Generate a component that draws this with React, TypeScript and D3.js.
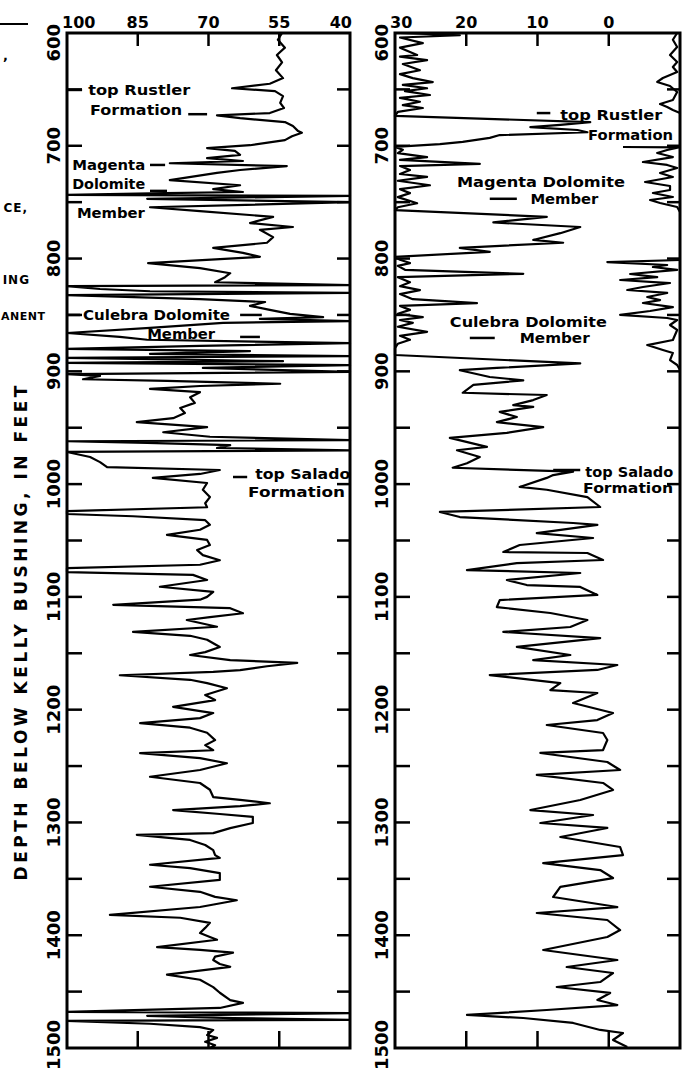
import React from 'react';
import * as d3 from 'd3';

// ---------- DATA ----------
// Left log (scale 100 -> 40), depth in feet below Kelly bushing
const leftDepth = [600,606,613,619.5,626,633,640,645,649,651.5,656,662,666.5,671,673,675.5,679,682.5,687,688.5,691.5,695,699.5,702,704.5,708,711,713.5,715.5,718,721.5,724,730.5,735,738.5,741,742,743.5,744.5,747,750,754.5,758,763,768.5,772,774.5,781,786,790.5,795,798.5,804,808.5,813,816.5,821,823.5,824.5,827,829,830.5,832.5,836,838.5,842,845.5,849,852,853.5,855.5,857,861.5,866,869.5,872,875,877.5,880,882,884.5,886.5,888,891,892.5,894.5,897,900.5,902.5,904,907,908.5,911,913,915.5,918.5,923,928,932.5,937,941.5,945,949.5,954,958,961,962,963.5,965.5,968,970,971.5,976,980.5,985,987.5,991,994.5,999,1005,1011.5,1017,1020.5,1024,1026.5,1028.5,1032,1036,1040.5,1045,1049.5,1054,1058.5,1063,1067.5,1071.5,1074.5,1078,1080.5,1085,1091,1095.5,1100,1102.5,1107,1110,1114.5,1118,1120.5,1126.5,1131,1134.5,1138,1144.5,1149,1151.5,1156,1158.5,1161.5,1165,1166.5,1169.5,1173.5,1176.5,1181,1187,1191.5,1197.5,1203,1207.5,1212,1216,1220.5,1227,1231.5,1236,1238.5,1243,1247.5,1253.5,1259.5,1265,1271,1277.5,1280,1283,1285.5,1289,1292.5,1295,1300.5,1305,1309.5,1311,1315.5,1320,1324.5,1329,1331.5,1337.5,1340.5,1345,1351,1357,1361.5,1366,1369,1372.5,1375,1382,1384.5,1389,1393.5,1398,1401.5,1404,1410.5,1413,1415.5,1419,1422,1425.5,1428,1435,1439.5,1446,1451,1457.5,1460,1464.5,1468,1469,1471.5,1473.5,1475,1476,1478.5,1481.5,1484,1488.5,1491,1494.5,1497.5,1500];
const leftValue = [54.4,55.3,53.8,55.5,54.4,55.7,54.2,57.0,65.0,55.9,54.2,54.8,54.0,57.0,68.2,63.3,53.8,52.1,51.0,50.2,52.3,53.8,61.2,70.3,64.4,63.3,70.3,62.7,78.2,53.4,63.3,68.2,78.2,63.3,69.0,62.7,79.2,100,40,83.0,40,82.4,71.8,56.3,61.2,52.1,59.1,56.3,57.6,69.0,62.7,59.1,82.8,71.8,65.4,66.5,68.6,40,100,93.0,82.4,40,100,71.8,58.0,61.2,57.0,52.7,45.7,59.1,40,66.9,82.4,100,88.8,83.0,40,71.8,100,61.2,82.4,40,100,54.2,100,40,71.2,40,100,93.0,96.6,78.8,54.8,71.8,82.4,71.8,73.9,72.9,76.0,75.0,77.5,85.2,70.3,79.6,69.7,40,100,83.0,65.4,68.2,40,100,95.1,93.0,91.5,67.6,71.8,81.8,70.3,71.2,69.7,70.7,70.3,100,100,86.0,70.7,69.7,71.8,78.8,70.3,69.7,72.4,71.2,67.6,71.8,100,100,73.3,70.3,80.3,69.0,70.3,71.8,90.2,65.4,62.7,69.7,74.6,68.2,86.0,73.9,70.3,67.6,70.7,73.9,65.4,51.2,57.6,63.3,69.0,88.8,73.9,70.3,66.1,70.7,68.6,77.5,69.0,71.8,84.5,73.9,70.3,68.6,70.7,69.0,84.5,71.8,66.1,71.8,82.4,71.8,69.7,69.0,63.3,57.0,63.3,77.5,67.6,60.6,60.6,65.4,69.0,85.2,73.9,70.7,69.0,68.6,67.6,82.4,73.9,67.6,67.6,82.4,71.8,68.6,64.0,68.6,71.8,90.9,76.0,69.7,70.7,71.8,69.7,68.2,80.9,71.8,64.8,68.6,69.0,67.6,65.4,78.8,71.8,69.0,67.6,65.4,62.7,67.6,100,40,83.0,64.8,40,100,82.4,71.8,69.0,70.3,68.2,70.7,68.6,69.7];

// Right log (scale 30 -> -10), main trace
const rightDepth = [600,602,604,609,613,619.5,621,624,627.5,633,636.5,640,643.5,646,649,651.5,655,657.5,661,664,666.5,670,673.5,679,681.5,683.5,686,688,690.5,693,696.5,698.5,701,703.5,706.5,710,712.5,716,718,721.5,725,727.5,731,735,738.5,742,745.5,751,754.5,757,763,768,772,777.5,783.5,786,790.5,794,798.5,801,804,806.5,810,813.5,816.5,821,824.5,828,831.5,836,839.5,842,845.5,849,852,854.5,857,860.5,865,868.5,872,875.5,879.5,885.5,893,897,899,905,908,912,919,921,925.5,930,931.5,936,940.5,945,949.5,954.5,959,967,970,976,981.5,985.5,989,992,994.5,1002.5,1005,1011.5,1020.3,1024.7,1029.2,1034.5,1036.2,1043.4,1047.8,1054,1060.2,1061.1,1067.3,1070,1076.2,1078.8,1085,1089.5,1091.2,1098.3,1102.8,1109,1114.3,1120.5,1126.7,1131.1,1136.5,1144.4,1151.5,1156,1160.4,1164.8,1169.3,1176.4,1182.6,1185.2,1194.1,1203,1209.2,1213.6,1220.7,1226.9,1235.8,1238.4,1246.4,1253.5,1257.9,1265,1271.2,1280.1,1289,1293.4,1300.5,1304.9,1312.9,1321.8,1328.9,1336,1342.2,1349.3,1357.2,1366.1,1375,1380.3,1386.5,1395.4,1401.6,1413.1,1422,1428.2,1433.5,1441.5,1445.9,1451.2,1457.4,1461.9,1466.3,1470.7,1473.4,1477.8,1484,1486.7,1492.9,1499.1];
const rightValue = [29.3,20.9,29.3,26.1,29.3,26.9,29.3,25.5,28.9,26.5,29.3,27.5,24.7,28.9,25.5,28.6,25.1,29.3,26.5,28.9,26.1,29.6,30,2.6,6.8,11.0,4.4,3.0,15.3,16.7,20.5,23.7,30,28.9,29.6,25.5,29.3,18.1,29.3,27.9,29.3,25.5,29.6,25.1,29.3,27.9,29.6,26.9,29.6,30,8.7,16.2,4.0,6.8,10.6,6.4,20.9,16.7,30,29.3,27.9,29.6,28.6,12.0,29.6,27.9,29.3,26.5,29.3,27.5,18.5,29.3,27.9,29.6,26.1,29.3,27.5,29.6,25.5,29.3,27.9,29.6,30,30,4.0,15.7,20.9,16.7,12.0,19.0,20.5,8.7,10.6,13.4,10.6,15.3,12.9,15.7,9.2,14.3,22.3,17.1,21.3,18.1,19.9,21.9,5.0,7.8,8.7,12.5,8.7,3.0,1.2,23.7,20.9,5.0,1.6,10.1,2.2,12.5,14.8,3.0,0.8,12.9,19.9,4.0,14.3,11.5,4.0,1.6,15.3,15.7,8.2,3.0,5.4,14.8,1.2,12.9,5.4,10.6,-1.2,1.6,16.7,6.8,8.2,1.6,5.0,-0.6,1.6,8.7,0.8,0.2,0.8,9.6,0.2,-1.6,10.1,0.8,-0.6,4.0,11.0,2.2,9.6,0.2,6.8,-1.6,-2.0,9.2,1.2,-0.6,6.8,7.8,-1.2,10.1,0.2,-1.6,0.2,9.2,-1.2,5.9,-0.6,1.2,7.3,-0.2,1.6,-1.2,8.7,19.9,12.0,5.0,1.2,-2.0,-0.6,-2.6];

// Right log, off-scale trace wrapped to the right edge (NaN = gap)
const wrapDepth = [600,606,612.4,619.5,625.7,630.1,634.6,639.9,643.4,647,652.3,659.4,663,665.6,668.3,671,NaN,701.1,701.5,703.7,706.4,710,714.4,717,719.7,724.1,727.7,732.1,735.7,739.2,741.9,745.4,748.1,750.7,754.3,758.7,NaN,801.3,803.1,805.7,807.5,810.1,813.7,816.4,819,821.7,825.2,827.9,830.5,834.1,836.8,839.4,843,846.5,850,852.7,854.5,858.9,863.3,872.2,876.7,881.1,883.7,890,894.4,898.8];
const wrapValue = [-9.6,-9.0,-9.6,-8.6,-9.6,-9.0,-9.6,-7.6,-6.8,-8.6,-9.6,-9.0,-7.2,-8.2,-9.0,-10,NaN,-2.0,-9.8,-8.2,-6.8,-9.0,-4.8,-8.2,-9.6,-7.2,-9.0,-5.1,-8.6,-8.6,-6.2,-9.0,-5.8,-7.2,-9.6,-10,NaN,-10,0.2,-8.2,-6.2,-9.6,-3.0,-6.8,-1.6,-8.6,-4.8,-2.6,-8.2,-5.4,-7.2,-4.8,-9.0,-5.8,-1.6,-8.2,-9.6,-8.6,-9.6,-9.0,-5.4,-7.6,-9.0,-8.6,-9.6,-10];

const leftTickValues = [100, 85, 70, 55, 40];
const rightTickValues = [30, 20, 10, 0];
const depthLabelValues = [600, 700, 800, 900, 1000, 1100, 1200, 1300, 1400, 1500];

// Annotation texts (formation tops), placed at depth / scale reading
const leftNotes = [
  { text: 'top Rustler', v: 95.5, d: 650.5, w: 102 },
  { text: 'Formation', v: 95.1, d: 668, w: 92 },
  { text: 'Magenta', v: 98.9, d: 717, w: 73 },
  { text: 'Dolomite', v: 98.9, d: 734, w: 73 },
  { text: 'Member', v: 97.9, d: 759.6, w: 68 },
  { text: 'Culebra Dolomite', v: 96.6, d: 850, w: 147 },
  { text: 'Member', v: 83.0, d: 867, w: 68 },
  { text: 'top Salado', v: 60.1, d: 991, w: 95 },
  { text: 'Formation', v: 61.6, d: 1007, w: 97 },
];
const leftDashes = [
  { v1: 100, v2: 96.8, d: 650.5 },
  { v1: 74.3, v2: 70.3, d: 672 },
  { v1: 82.4, v2: 79.2, d: 717 },
  { v1: 82.4, v2: 78.8, d: 740 },
  { v1: 100, v2: 97.2, d: 850 },
  { v1: 63.3, v2: 58.7, d: 850 },
  { v1: 63.3, v2: 59.1, d: 869.5 },
  { v1: 64.8, v2: 61.8, d: 993.7 },
];
const rightNotes = [
  { text: 'top Rustler', v: 6.8, d: 672.7, w: 102 },
  { text: 'Formation', v: 2.9, d: 690.4, w: 85 },
  { text: 'Magenta Dolomite', v: 21.3, d: 732.5, w: 168 },
  { text: 'Member', v: 11.0, d: 746.8, w: 68 },
  { text: 'Culebra Dolomite', v: 22.3, d: 856, w: 157 },
  { text: 'Member', v: 12.5, d: 870, w: 70 },
  { text: 'top Salado', v: 3.3, d: 989.3, w: 88 },
  { text: 'Formation', v: 3.6, d: 1003.4, w: 90 },
];
const rightDashes = [
  { v1: 10.1, v2: 8.2, d: 671 },
  { v1: 16.7, v2: 12.9, d: 747 },
  { v1: 19.5, v2: 16.0, d: 870.4 },
  { v1: 7.8, v2: 4.0, d: 987.5 },
];

const FONT = "'DejaVu Sans', sans-serif";

export default function App() {
  const y = d3.scaleLinear().domain([600, 1500]).range([33, 1048]);
  const xL = d3.scaleLinear().domain([100, 40]).range([67, 350]);
  const xR = d3.scaleLinear().domain([30, -10]).range([395, 680]);

  type P = { d: number; v: number };
  const zip = (ds: number[], vs: number[]): P[] => ds.map((d, i) => ({ d, v: vs[i] }));
  const mk = (x: d3.ScaleLinear<number, number>) =>
    d3.line<P>().x(p => x(p.v)).y(p => y(p.d)).defined(p => !isNaN(p.v) && !isNaN(p.d));

  const leftPath = mk(xL)(zip(leftDepth, leftValue)) || '';
  const rightPath = mk(xR)(zip(rightDepth, rightValue)) || '';
  const wrapPath = mk(xR)(zip(wrapDepth, wrapValue)) || '';

  const sideTicks = d3.range(650, 1500, 50);

  const panel = (
    x: d3.ScaleLinear<number, number>,
    tickVals: number[],
    key: string,
    labelX: number
  ) => {
    const [x0, x1] = x.range();
    const y0 = y(600), y1 = y(1500);
    const inner = tickVals.filter(v => x(v) > x0 + 2 && x(v) < x1 - 2);
    return (
      <g key={key}>
        <rect x={x0} y={y0} width={x1 - x0} height={y1 - y0} fill="none" stroke="#000" strokeWidth={3} />
        {sideTicks.map(t => (
          <g key={t}>
            <line x1={x0} x2={x0 + 15} y1={y(t)} y2={y(t)} stroke="#000" strokeWidth={2.5} />
            <line x1={x1 - 13} x2={x1} y1={y(t)} y2={y(t)} stroke="#000" strokeWidth={2.5} />
          </g>
        ))}
        {inner.map(v => (
          <g key={v}>
            <line x1={x(v)} x2={x(v)} y1={y0} y2={y0 + 13} stroke="#000" strokeWidth={2.5} />
            <line x1={x(v)} x2={x(v)} y1={y1} y2={y1 - 17} stroke="#000" strokeWidth={2.5} />
          </g>
        ))}
        {tickVals.map((v, i) => {
          const first = i === 0;
          const last = x(v) >= x1 - 2;
          return (
            <text
              key={'l' + v}
              x={first ? x(v) - 5 : last ? x(v) + 2 : x(v)}
              y={y0 - 11}
              textAnchor={first ? 'start' : last ? 'end' : 'middle'}
              dominantBaseline="central"
              fontFamily={FONT}
              fontWeight="bold"
              fontSize={16}
            >
              {v}
            </text>
          );
        })}
        {depthLabelValues.map((dv, i) => {
          const first = i === 0;
          const yy = first ? y(dv) - 9 : i === depthLabelValues.length - 1 ? y(dv) - 3 : y(dv);
          return (
            <text
              key={'d' + dv}
              transform={`translate(${labelX},${yy}) rotate(-90)`}
              textAnchor={first ? 'end' : 'middle'}
              dominantBaseline="central"
              fontFamily={FONT}
              fontWeight="bold"
              fontSize={18}
            >
              {dv}
            </text>
          );
        })}
      </g>
    );
  };

  const notes = (
    x: d3.ScaleLinear<number, number>,
    list: { text: string; v: number; d: number; w: number }[],
    dashes: { v1: number; v2: number; d: number }[],
    key: string
  ) => (
    <g key={key}>
      {dashes.map((ds, i) => (
        <line key={i} x1={x(ds.v1)} x2={x(ds.v2)} y1={y(ds.d)} y2={y(ds.d)} stroke="#000" strokeWidth={2.5} />
      ))}
      {list.map((n, i) => (
        <text
          key={'t' + i}
          x={x(n.v)}
          y={y(n.d)}
          dominantBaseline="central"
          fontFamily={FONT}
          fontWeight="bold"
          fontSize={14.5}
          textLength={n.w}
          lengthAdjust="spacingAndGlyphs"
        >
          {n.text}
        </text>
      ))}
    </g>
  );

  return (
    <svg
      width={691}
      height={1075}
      viewBox="0 0 691 1075"
      style={{ position: 'absolute', left: 0, top: 0, background: '#fff', display: 'block' }}
    >
      <rect x={0} y={0} width={691} height={1075} fill="#fff" />
      {/* fragments of neighbouring page content at the left edge */}
      <line x1={0} x2={28} y1={24} y2={24} stroke="#000" strokeWidth={2} />
      <text x={3} y={60} fontFamily={FONT} fontWeight="bold" fontSize={13}>,</text>
      <text x={28} y={212} textAnchor="end" fontFamily={FONT} fontWeight="bold" fontSize={12} letterSpacing={1}>CE,</text>
      <text x={30} y={284} textAnchor="end" fontFamily={FONT} fontWeight="bold" fontSize={12} letterSpacing={1}>ING</text>
      <text x={1} y={320} textAnchor="start" fontFamily={FONT} fontWeight="bold" fontSize={11} letterSpacing={0.5}>ANENT</text>

      {/* axis title */}
      <text
        transform="translate(21,633) rotate(-90)"
        textAnchor="middle"
        dominantBaseline="central"
        fontFamily={FONT}
        fontWeight="bold"
        fontSize={17}
        textLength={495}
        lengthAdjust="spacing"
      >
        DEPTH BELOW KELLY BUSHING, IN FEET
      </text>

      {panel(xL, leftTickValues, 'pl', 53)}
      {panel(xR, rightTickValues, 'pr', 381)}

      <path d={leftPath} fill="none" stroke="#000" strokeWidth={2.2} strokeLinejoin="round" />
      <path d={rightPath} fill="none" stroke="#000" strokeWidth={2.2} strokeLinejoin="round" />
      <path d={wrapPath} fill="none" stroke="#000" strokeWidth={2.2} strokeLinejoin="round" />

      {notes(xL, leftNotes, leftDashes, 'nl')}
      {notes(xR, rightNotes, rightDashes, 'nr')}
    </svg>
  );
}
